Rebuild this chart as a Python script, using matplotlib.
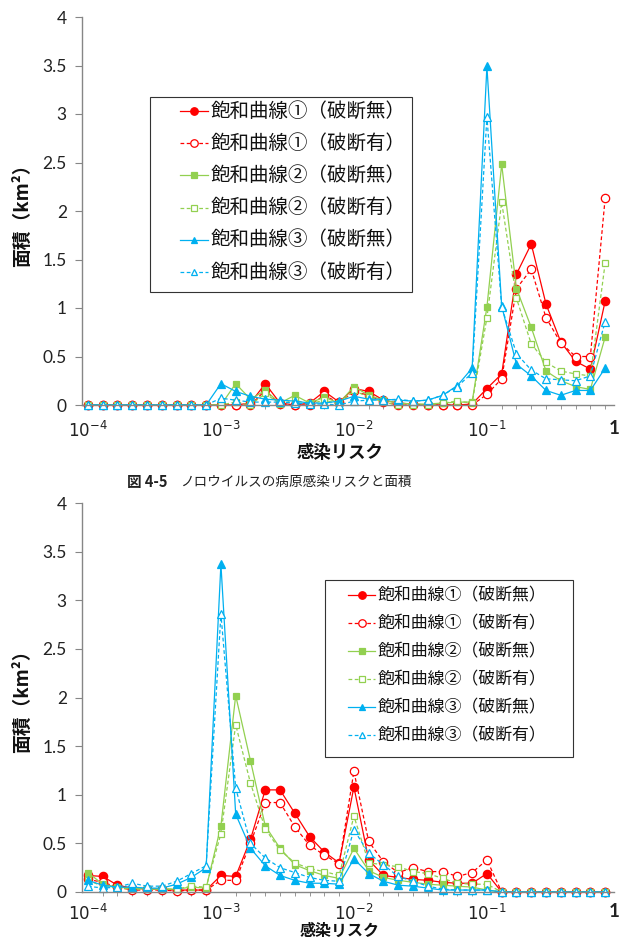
import numpy as np
import matplotlib
matplotlib.use("Agg")
import matplotlib.pyplot as plt
from matplotlib.lines import Line2D
from matplotlib.patches import Rectangle

plt.rcParams['font.family'] = ['Lato', 'Noto Sans CJK JP', 'DejaVu Sans']

# =========================
# DATA (index 0 = 10^-4, 9 points per decade)
# =========================
x_tick_pos = [0, 9, 18, 27, 35.6]
x_tick_labels = ['$10^{-4}$', '$10^{-3}$', '$10^{-2}$', '$10^{-1}$', '1']
y_ticks = [0, 0.5, 1, 1.5, 2, 2.5, 3, 3.5, 4]
y_tick_labels = ['0', '0.5', '1', '1.5', '2', '2.5', '3', '3.5', '4']

labels = ['飽和曲線①（破断無）', '飽和曲線①（破断有）',
          '飽和曲線②（破断無）', '飽和曲線②（破断有）',
          '飽和曲線③（破断無）', '飽和曲線③（破断有）']

# top chart
top_r1_no = [0, 0, 0, 0, 0, 0, 0, 0, 0, 0, 0, 0.02, 0.22, 0.02, 0.0, 0.02, 0.14, 0.03,
             0.17, 0.14, 0.05, 0.02, 0.01, 0.0, 0.0, 0.0, 0.01, 0.17, 0.32, 1.35, 1.66,
             1.04, 0.65, 0.45, 0.37, 1.07]
top_r1_yes = [0, 0, 0, 0, 0, 0, 0, 0, 0, 0, 0, 0, 0.15, 0.01, 0, 0, 0.10, 0.02,
              0.14, 0.10, 0.03, 0, 0, 0, 0, 0, 0, 0.11, 0.27, 1.20, 1.40,
              0.90, 0.64, 0.50, 0.50, 2.13]
top_g2_no = [0, 0, 0, 0, 0, 0, 0, 0, 0, 0, 0.22, 0.06, 0.15, 0.02, 0.10, 0.02, 0.08, 0.02,
             0.19, 0.10, 0.05, 0.02, 0.01, 0.01, 0.02, 0.03, 0.03, 1.01, 2.48, 1.20, 0.80,
             0.35, 0.25, 0.19, 0.16, 0.70]
top_g2_yes = [0, 0, 0, 0, 0, 0, 0, 0, 0, 0, 0.03, 0.0, 0.12, 0.01, 0.05, 0.01, 0.05, 0.01,
              0.15, 0.08, 0.03, 0.0, 0.0, 0.0, 0.02, 0.04, 0.02, 0.90, 2.09, 1.10, 0.63,
              0.44, 0.35, 0.32, 0.30, 1.46]
top_b3_no = [0, 0, 0, 0, 0, 0, 0, 0, 0, 0.22, 0.14, 0.09, 0.06, 0.05, 0.04, 0.02, 0.02, 0.04,
             0.09, 0.06, 0.06, 0.05, 0.04, 0.05, 0.10, 0.20, 0.38, 3.49, 1.02, 0.42, 0.30,
             0.15, 0.10, 0.15, 0.15, 0.38]
top_b3_yes = [0, 0, 0, 0, 0, 0, 0, 0, 0, 0.07, 0.05, 0.03, 0.03, 0.03, 0.02, 0.01, 0.01, 0.0,
              0.04, 0.05, 0.05, 0.06, 0.04, 0.05, 0.10, 0.19, 0.33, 2.97, 1.01, 0.53, 0.36,
              0.27, 0.26, 0.25, 0.30, 0.86]

# bottom chart
bot_r1_no = [0.17, 0.16, 0.07, 0.04, 0.03, 0.03, 0.02, 0.02, 0.02, 0.17, 0.16, 0.54, 1.05, 1.05,
             0.81, 0.57, 0.41, 0.30, 1.08, 0.33, 0.17, 0.15, 0.13, 0.12, 0.10, 0.09, 0.09, 0.19,
             0, 0, 0, 0, 0, 0, 0, 0]
bot_r1_yes = [0.13, 0.10, 0.05, 0.02, 0.02, 0.02, 0.01, 0.02, 0.02, 0.12, 0.12, 0.50, 0.92, 0.92,
              0.67, 0.48, 0.38, 0.29, 1.24, 0.52, 0.31, 0.20, 0.25, 0.21, 0.21, 0.16, 0.20, 0.33,
              0, 0, 0, 0, 0, 0, 0, 0]
bot_g2_no = [0.20, 0.08, 0.05, 0.04, 0.03, 0.03, 0.03, 0.05, 0.04, 0.68, 2.02, 1.35, 0.68, 0.45,
             0.28, 0.22, 0.17, 0.14, 0.45, 0.22, 0.15, 0.12, 0.10, 0.08, 0.07, 0.06, 0.05, 0.02,
             0, 0, 0, 0, 0, 0, 0, 0]
bot_g2_yes = [0.12, 0.06, 0.04, 0.03, 0.03, 0.03, 0.03, 0.06, 0.05, 0.60, 1.72, 1.12, 0.65, 0.43,
              0.30, 0.24, 0.21, 0.17, 0.78, 0.30, 0.28, 0.26, 0.21, 0.19, 0.14, 0.09, 0.08, 0.08,
              0, 0, 0, 0, 0, 0, 0, 0]
bot_b3_no = [0.12, 0.07, 0.05, 0.05, 0.04, 0.04, 0.08, 0.15, 0.25, 3.37, 0.80, 0.45, 0.27, 0.17,
             0.12, 0.09, 0.09, 0.08, 0.34, 0.19, 0.11, 0.07, 0.06, 0.04, 0.02, 0.02, 0.02, 0.02,
             0, 0, 0, 0, 0, 0, 0, 0]
bot_b3_yes = [0.06, 0.04, 0.05, 0.09, 0.06, 0.06, 0.11, 0.19, 0.27, 2.86, 1.07, 0.50, 0.35, 0.25,
              0.20, 0.15, 0.12, 0.11, 0.64, 0.40, 0.28, 0.16, 0.11, 0.06, 0.03, 0.02, 0.02, 0.02,
              0, 0, 0, 0, 0, 0, 0, 0]

RED = '#FF0000'
GREEN = '#92D050'
BLUE = '#00B0F0'
AXIS_GRAY = '#868686'
DASH = (0, (3, 2))

styles = [
    dict(color=RED, ls='-', marker='o', ms=6.0, mfc=RED),
    dict(color=RED, ls=DASH, marker='o', ms=6.0, mfc='white'),
    dict(color=GREEN, ls='-', marker='s', ms=4.5, mfc=GREEN),
    dict(color=GREEN, ls=DASH, marker='s', ms=4.5, mfc='white'),
    dict(color=BLUE, ls='-', marker='^', ms=5.5, mfc=BLUE),
    dict(color=BLUE, ls=DASH, marker='^', ms=5.5, mfc='white'),
]

W, H = 626, 939
cjk = ['Noto Sans CJK JP', 'DejaVu Sans']


def fx(px):
    return px / W


def fy(py):
    return 1 - py / H


def draw_panel(ax, series, xpad):
    idx = np.arange(len(series[0]))
    for vals, st in zip(series, styles):
        ax.plot(idx, vals, color=st['color'], ls=st['ls'], lw=0.9,
                marker=st['marker'], ms=st['ms'], mfc=st['mfc'],
                mec=st['color'], mew=0.9, clip_on=False)

    ax.set_xlim(-0.4, 35.5)
    ax.set_ylim(0, 4)
    ax.set_yticks(y_ticks)
    ax.set_yticklabels(y_tick_labels, fontsize=12.5, color='#222222')
    ax.set_xticks(x_tick_pos)
    ax.set_xticklabels(x_tick_labels, fontsize=12, color='#222222')
    last = ax.get_xticklabels()[-1]
    last.set_fontweight('bold')
    last.set_fontsize(13.5)
    ax.set_xticks(idx, minor=True)

    for s in ['top', 'right']:
        ax.spines[s].set_visible(False)
    for s in ['left', 'bottom']:
        ax.spines[s].set_color(AXIS_GRAY)
        ax.spines[s].set_linewidth(1.0)
    ax.tick_params(axis='y', direction='out', length=5, color=AXIS_GRAY, pad=6)
    ax.tick_params(axis='x', which='major', direction='out', length=0, pad=xpad)
    ax.tick_params(axis='x', which='minor', direction='out', length=3, color=AXIS_GRAY)


def draw_legend(fig, box, hx0, hx1, row_y0, row_dy, fs):
    # box = (left, top, right, bottom) in pixels
    l, t, r, b = box
    fig.patches.append(Rectangle((fx(l), fy(b)), fx(r) - fx(l), fy(t) - fy(b),
                                 transform=fig.transFigure, fill=False,
                                 edgecolor='#333333', lw=0.8))
    for i, (st, lab) in enumerate(zip(styles, labels)):
        y = fy(row_y0 + i * row_dy)
        fig.lines.append(Line2D([fx(hx0), fx(hx1)], [y, y], transform=fig.transFigure,
                                color=st['color'], ls=st['ls'], lw=0.9))
        fig.lines.append(Line2D([fx((hx0 + hx1) / 2)], [y], transform=fig.transFigure,
                                color=st['color'], marker=st['marker'], ms=st['ms'] * 0.9,
                                mfc=st['mfc'], mec=st['color'], mew=0.9, ls='none'))
        fig.text(fx(hx1 + 3), y, lab, ha='left', va='center', fontsize=fs,
                 family=cjk, color='#111111')


fig = plt.figure(figsize=(W / 100, H / 100), dpi=100)

ax1 = fig.add_axes([fx(82), fy(405), fx(614) - fx(82), fy(17) - fy(405)])
draw_panel(ax1, [top_r1_no, top_r1_yes, top_g2_no, top_g2_yes, top_b3_no, top_b3_yes], 11)

ax2 = fig.add_axes([fx(82), fy(892), fx(614) - fx(82), fy(503) - fy(892)])
draw_panel(ax2, [bot_r1_no, bot_r1_yes, bot_g2_no, bot_g2_yes, bot_b3_no, bot_b3_yes], 8)

draw_legend(fig, (150, 97, 412, 292), 180, 208, 111, 32.2, 14)
draw_legend(fig, (325, 580, 573, 757), 348, 375, 595, 28.0, 12.2)

for y in [211, 697]:
    fig.text(fx(22), fy(y), '面積（km²）', rotation=90, ha='center', va='center',
             fontsize=13.5, family=cjk, fontweight='bold', color='#111111')
fig.text(fx(340), fy(453), '感染リスク', ha='center', va='center',
         fontsize=12.5, family=cjk, fontweight='bold', color='#111111')
fig.text(fx(340), fy(939), '感染リスク', ha='center', va='bottom',
         fontsize=11.5, family=cjk, fontweight='bold', color='#111111')

# caption
fig.text(fx(127), fy(482), '図 4-5', ha='left', va='center',
         fontsize=10.5, family=cjk, fontweight='bold', color='#222222')
fig.text(fx(180), fy(482), 'ノロウイルスの病原感染リスクと面積', ha='left', va='center',
         fontsize=9.8, family=cjk, color='#222222')

fig.savefig('out.png', dpi=100)
